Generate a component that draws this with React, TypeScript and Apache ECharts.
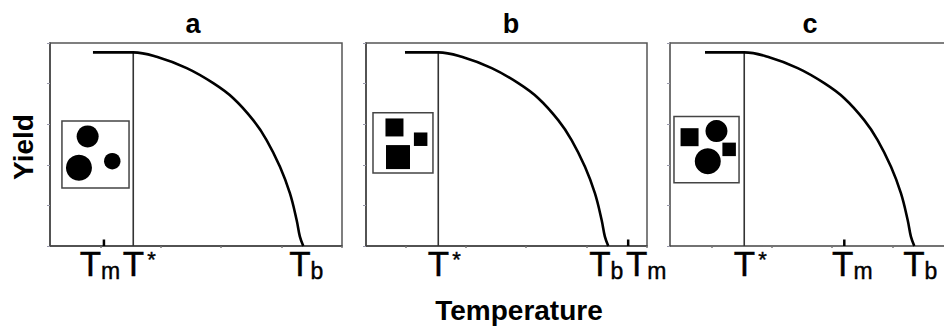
import React, { useEffect, useRef } from "react";
import * as echarts from "echarts";

const FONT = '"Liberation Sans", Arial, Helvetica, sans-serif';

// Shared yield curve (temperature, relative yield)
const curveTemp = [17.72, 19.66, 22.15, 24.35, 26.01, 27.66, 28.77, 29.88, 30.7, 31.26, 31.53, 31.81];
const curveYield = [4.77, 4.66, 4.38, 4.01, 3.64, 3.1, 2.61, 1.95, 1.3, 0.64, 0.23, 0];
const T_STAR = 17.72;
const T_B = 31.81;
const PLATEAU = 4.77;

const panelNames = ["a", "b", "c"];
const plateauStart = [14.38, 14.96, 14.47];
const tmValues = [15.29, 33.46, 26.01];
const xMin = [10.82, 11.73, 11.57];
const xMax = [35.02, 35.02, 34.27];
const xTickValues = [15, 20, 25, 30, 35];

// Tick-label texts (rich markup) for Tm, T*, Tb
const tickLabelTexts = ["{t|T}{s|m}", "{t|T}{st|*}", "{t|T}{s|b}"];

// Inset boxes: [xFrom, yFrom, xTo, yTo] in data units
const insetBoxes = [
  [11.81, 1.43, 17.37, 3.08],
  [12.31, 1.8, 17.28, 3.28],
  [11.9, 1.56, 17.29, 3.19],
];
// Inset shapes: [shape, x, y, sizeClass]
const insetShapesA = [
  ["circle", 13.94, 2.7, "M"],
  ["circle", 13.22, 1.93, "L"],
  ["circle", 15.98, 2.09, "S"],
];
const insetShapesB = [
  ["rect", 14.09, 2.92, "M"],
  ["rect", 14.38, 2.19, "L"],
  ["rect", 16.26, 2.63, "S"],
];
const insetShapesC = [
  ["rect", 13.19, 2.68, "M"],
  ["circle", 15.42, 2.83, "M"],
  ["rect", 16.47, 2.38, "S"],
  ["circle", 14.7, 2.09, "L"],
];
const insetShapes = [insetShapesA, insetShapesB, insetShapesC];

// styles
const SIZE: Record<string, Record<string, number>> = {
  circle: { L: 26, M: 22, S: 16.5 },
  rect: { L: 24, M: 18, S: 13.5 },
};
const gridLayout = [
  { left: 50, top: 43, width: 292, height: 203 },
  { left: 366, top: 43, width: 281, height: 203 },
  { left: 670, top: 43, width: 274, height: 203 },
];
// panel c runs past the right edge of the picture: no closing right border
const gridBorder = [true, true, false];
const titleX = [193, 511, 810];
// horizontal nudges of the tick labels [Tm, T*, Tb] per panel
const labelNudge = [
  [-4, 6, 3],
  [18, 6, -2],
  [8, 6, 6],
];

function buildOption() {
  const grid: any[] = [];
  const xAxis: any[] = [];
  const yAxis: any[] = [];
  const series: any[] = [];
  const title: any[] = [];
  const ink = { color: "#000", fontFamily: FONT, textBorderColor: "#000", textBorderWidth: 0.4, opacity: 1 };
  const rich = {
    t: { ...ink, fontSize: 35, lineHeight: 36, verticalAlign: "top", padding: [0, 0, 7, 0] },
    s: { ...ink, fontSize: 23, lineHeight: 23, verticalAlign: "bottom" },
    st: { ...ink, fontSize: 22, lineHeight: 22, verticalAlign: "top", padding: [2, 0, 0, 3] },
  };

  panelNames.forEach((name, i) => {
    grid.push({
      ...gridLayout[i],
      show: gridBorder[i],
      borderColor: "#555",
      borderWidth: 1.5,
      backgroundColor: "transparent",
    });
    title.push({
      text: name,
      left: titleX[i],
      top: 10,
      padding: 0,
      textAlign: "center",
      textStyle: { fontSize: 27, fontWeight: "bold", color: "#000", fontFamily: FONT },
    });
    const tm = tmValues[i];
    xAxis.push({
      gridIndex: i,
      type: "value",
      position: "bottom",
      min: xMin[i],
      max: xMax[i],
      axisLine: { show: true, onZero: false, lineStyle: { color: "#444", width: 1.5 } },
      axisTick: {
        show: true,
        customValues: xTickValues.filter((v) => v >= xMin[i] && v <= xMax[i]),
        length: 2,
        lineStyle: { color: "#777", width: 1.5 },
      },
      splitLine: { show: false },
      axisLabel: { show: false },
    });
    yAxis.push({
      gridIndex: i,
      type: "value",
      min: 0,
      max: 5,
      interval: 1,
      axisLine: { show: true, onZero: false, lineStyle: { color: "#444", width: 1.5 } },
      axisTick: { show: true, length: 3, lineStyle: { color: "#99a", width: 1 } },
      axisLabel: { show: false },
      splitLine: { show: false },
    });

    series.push({
      type: "line",
      xAxisIndex: i,
      yAxisIndex: i,
      data: [[plateauStart[i], PLATEAU], ...curveTemp.map((t, k) => [t, curveYield[k]])],
      smooth: 0.4,
      symbol: "none",
      lineStyle: { color: "#000", width: 2.6 },
      z: 3,
    });
    series.push({
      type: "line",
      xAxisIndex: i,
      yAxisIndex: i,
      data: [
        [T_STAR, 0],
        [T_STAR, PLATEAU],
      ],
      symbol: "none",
      lineStyle: { color: "#333", width: 1.6 },
      z: 2,
    });
    series.push({
      type: "line",
      xAxisIndex: i,
      yAxisIndex: i,
      data: [
        [tm, 0],
        [tm, 0.16],
      ],
      symbol: "none",
      lineStyle: { color: "#000", width: 2.5 },
      z: 3,
    });
    // tick labels Tm, T*, Tb placed through the x scale
    const labelValues = [tm, T_STAR, T_B];
    series.push({
      type: "scatter",
      xAxisIndex: i,
      yAxisIndex: i,
      symbolSize: 0,
      silent: true,
      clip: false,
      itemStyle: { color: "#000", opacity: 1 },
      data: labelValues.map((v, k) => ({
        value: [v, 0],
        label: { offset: [labelNudge[i][k], 0] },
      })),
      label: {
        show: true,
        position: "bottom",
        distance: 0,
        color: "#000",
        opacity: 1,
        textBorderColor: "#000",
        textBorderWidth: 0.4,
        formatter: (p: any) => tickLabelTexts[p.dataIndex],
        rich,
      },
      z: 6,
    });
    const box = insetBoxes[i];
    series.push({
      type: "scatter",
      xAxisIndex: i,
      yAxisIndex: i,
      data: insetShapes[i].map((s: any) => ({
        value: [s[1], s[2]],
        symbol: s[0],
        symbolSize: SIZE[s[0]][s[3]],
      })),
      itemStyle: { color: "#000", opacity: 1 },
      z: 5,
      markArea: {
        silent: true,
        itemStyle: { color: "#fff", borderColor: "#444", borderWidth: 1.5 },
        data: [[{ coord: [box[0], box[1]] }, { coord: [box[2], box[3]] }]],
      },
    });
  });

  // top frame line for panel c (its grid border is off)
  xAxis.push({
    gridIndex: 2,
    type: "value",
    position: "top",
    min: xMin[2],
    max: xMax[2],
    axisLine: { show: true, onZero: false, lineStyle: { color: "#555", width: 1.5 } },
    axisTick: { show: false },
    axisLabel: { show: false },
    splitLine: { show: false },
  });

  return {
    animation: false,
    backgroundColor: "#fff",
    title,
    grid,
    xAxis,
    yAxis,
    series,
    graphic: [
      {
        type: "text",
        x: 23,
        y: 147,
        rotation: Math.PI / 2,
        style: {
          text: "Yield",
          fontSize: 28,
          fontWeight: "bold",
          fontFamily: FONT,
          fill: "#000",
          textAlign: "center",
          textVerticalAlign: "middle",
        },
      },
      {
        type: "text",
        x: 519,
        y: 310,
        style: {
          text: "Temperature",
          fontSize: 28,
          fontWeight: "bold",
          fontFamily: FONT,
          fill: "#000",
          textAlign: "center",
          textVerticalAlign: "middle",
        },
      },
    ],
  };
}

export default function App() {
  const ref = useRef<HTMLDivElement>(null);
  useEffect(() => {
    if (!ref.current) return;
    const chart = echarts.init(ref.current, null, { renderer: "svg" });
    chart.setOption(buildOption() as any);
    return () => chart.dispose();
  }, []);
  return (
    <div
      ref={ref}
      style={{ position: "absolute", left: 0, top: 0, width: 944, height: 326, overflow: "hidden" }}
    />
  );
}
